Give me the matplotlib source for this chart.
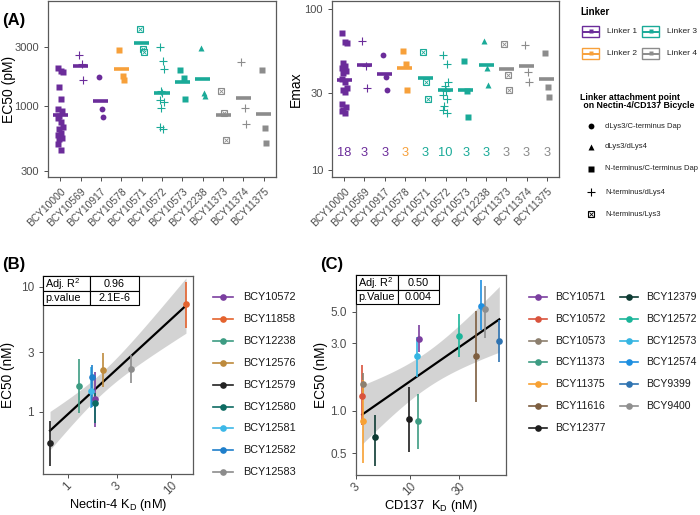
import numpy as np
import matplotlib
matplotlib.use('Agg')
import matplotlib.pyplot as plt
from matplotlib.patches import Rectangle

plt.rcParams['font.family'] = ['Liberation Sans', 'DejaVu Sans']
plt.rcParams['mathtext.fontset'] = 'custom'
plt.rcParams['mathtext.rm'] = 'Liberation Sans'
plt.rcParams['mathtext.it'] = 'Liberation Sans:italic'
plt.rcParams['mathtext.bf'] = 'Liberation Sans:bold'

# ---------------- Panel A data ----------------
categories = ['BCY10000', 'BCY10569', 'BCY10917', 'BCY10578', 'BCY10571', 'BCY10572',
              'BCY10573', 'BCY12238', 'BCY11373', 'BCY11374', 'BCY11375']
cat_linker = [1, 1, 1, 2, 3, 3, 3, 3, 4, 4, 4]
cat_attach = ['sq', 'plus', 'circ', 'sq', 'boxx', 'plus', 'sq', 'tri', 'boxx', 'plus', 'sq']

ec50_pM = [
    [2005, 1930, 1860, 1416, 1137, 946, 912, 833, 803, 746, 681, 656, 610, 588, 556, 546, 498, 439],
    [2577, 2178, 1630],
    [1706, 946, 813],
    [2838, 1754, 1611],
    [4198, 2877, 2705],
    [2965, 2291, 1982, 1315, 1268, 1116, 1082, 959, 671, 656],
    [1959, 1691, 1143],
    [2911, 1276, 1202],
    [1324, 875, 537],
    [2240, 959, 719],
    [1932, 668, 508],
]
emax = [
    [70.8, 62.4, 61.5, 45.9, 44.4, 42.8, 41.2, 40.2, 36.6, 35.4, 32.2, 31.5, 30.7, 25.8, 24.8, 23.7, 23.1, 22.6],
    [63.0, 44.2, 32.5],
    [51.6, 38.0, 31.5],
    [54.8, 45.3, 31.5],
    [53.7, 35.1, 27.7],
    [51.6, 45.3, 35.2, 33.3, 31.0, 29.3, 27.7, 25.1, 23.7, 22.7],
    [47.4, 31.0, 21.4],
    [63.2, 42.8, 33.8],
    [61.0, 38.9, 31.5],
    [59.5, 40.7, 35.4],
    [53.3, 32.7, 28.6],
]
linker_names = ['Linker 1', 'Linker 2', 'Linker 3', 'Linker 4']
attach_labels = ['dLys3/C-terminus Dap', 'dLys3/dLys4', 'N-terminus/C-terminus Dap',
                 'N-terminus/dLys4', 'N-terminus/Lys3']
attach_keys = ['circ', 'tri', 'sq', 'plus', 'boxx']

# ---------------- Panel B data ----------------
b_names = ['BCY10572', 'BCY11858', 'BCY12238', 'BCY12576', 'BCY12579',
           'BCY12580', 'BCY12581', 'BCY12582', 'BCY12583']
b_kd = [1.84, 14.1, 1.28, 2.19, 0.673, 1.83, 1.68, 1.73, 4.12]
b_ec50 = [1.26, 7.28, 1.61, 2.17, 0.562, 1.17, 1.48, 1.90, 2.21]
b_lo = [0.755, 4.72, 0.977, 1.58, 0.370, 0.82, 1.08, 1.10, 1.70]
b_hi = [2.10, 11.0, 2.67, 2.95, 0.851, 1.42, 2.30, 2.38, 2.86]
b_stats = [['Adj. R$^2$', '0.96'], ['p.value', '2.1E-6']]

# ---------------- Panel C data ----------------
c_names = ['BCY10571', 'BCY10572', 'BCY10573', 'BCY11373', 'BCY11375', 'BCY11616', 'BCY12377',
           'BCY12379', 'BCY12572', 'BCY12573', 'BCY12574', 'BCY9399', 'BCY9400']
c_kd = [12.2, 3.44, 3.48, 12.0, 3.52, 43.4, 9.78, 4.57, 30.2, 11.8, 48.9, 73.6, 53.5]
c_ec50 = [3.2, 1.26, 1.54, 0.846, 0.850, 2.44, 0.869, 0.649, 3.39, 2.45, 5.52, 3.12, 5.23]
c_lo = [2.61, 0.792, 1.25, 0.534, 0.425, 1.16, 0.508, 0.407, 2.41, 1.74, 3.72, 2.22, 3.25]
c_hi = [4.03, 2.10, 1.85, 1.31, 1.65, 5.09, 1.46, 0.933, 4.82, 3.32, 8.4, 4.37, 7.6]
c_stats = [['Adj. R$^2$', '0.50'], ['p.Value', '0.004']]

# ---------------- styles ----------------
linker_colors = {1: '#6B2C9A', 2: '#F7A03A', 3: '#1AAA98', 4: '#8C8C8C'}
b_colors = ['#7B3FA0', '#E4632E', '#3D9C83', '#BD8A3C', '#232323',
            '#0E6B62', '#3DB8E8', '#1F7FCB', '#8C8C8C']
c_colors = ['#7B3FA0', '#D9533C', '#8C7F6E', '#3D9C83', '#F7A133', '#7D5E40', '#1E1E1E',
            '#0D3B33', '#1BB59A', '#35B5E2', '#1E8FE0', '#2F73B1', '#8F8F8F']
TICKC = '#4D4D4D'
SPINEC = '#5A5A5A'

W, H = 700, 515
fig = plt.figure(figsize=(7, 5.15), dpi=100)


def rect(l, t, r, b):
    return [l / W, 1 - b / H, (r - l) / W, (b - t) / H]


def draw_marker(ax, x, y, shape, color, scale=1.0, **kw):
    if shape == 'circ':
        ax.plot(x, y, 'o', ms=4.2 * scale, color=color, mec='none', ls='none', **kw)
    elif shape == 'tri':
        ax.plot(x, y, '^', ms=4.8 * scale, color=color, mec='none', ls='none', **kw)
    elif shape == 'sq':
        ax.plot(x, y, 's', ms=3.8 * scale, color=color, mec='none', ls='none', **kw)
    elif shape == 'plus':
        ax.plot(x, y, '+', ms=6.2 * scale, color=color, mew=0.8, ls='none', **kw)
    elif shape == 'boxx':
        ax.plot(x, y, 's', ms=4.3 * scale, mfc='white', mec=color, mew=0.8, ls='none', **kw)
        ax.plot(x, y, 'x', ms=2.8 * scale, color=color, mew=0.6, ls='none', **kw)


def style_axes(ax, lw=0.9):
    for s in ax.spines.values():
        s.set_color(SPINEC)
        s.set_linewidth(lw)
    ax.tick_params(colors=TICKC, length=3, width=0.7)
    ax.minorticks_off()


jit = [-0.1, 0.06, 0.12, -0.04, 0.02, -0.12, 0.09, -0.07]


def strip_panel(ax, values, ylim, yticks, ylabel, label_x, counts=False):
    ax.set_yscale('log')
    for i, vals in enumerate(values):
        pos = i + 1
        col = linker_colors[cat_linker[i]]
        xs = [pos + jit[k % len(jit)] for k in range(len(vals))]
        draw_marker(ax, xs, vals, cat_attach[i], col, zorder=3)
        gm = np.exp(np.mean(np.log(vals)))
        ax.hlines(gm, pos - 0.37, pos + 0.37, color=col, lw=2.6, zorder=4)
        if counts:
            ax.text(pos, 12.7, str(len(vals)), color=col, ha='center', va='center', fontsize=9.3)
    ax.set_xlim(0.4, len(values) + 0.6)
    ax.set_ylim(*ylim)
    ax.set_yticks(yticks)
    ax.set_yticklabels([str(t) for t in yticks], fontsize=8)
    ax.set_xticks(range(1, len(values) + 1))
    ax.set_xticklabels(categories, rotation=45, ha='right', rotation_mode='anchor', fontsize=7.4)
    ax.set_ylabel(ylabel, fontsize=10)
    ax.yaxis.set_label_coords(label_x, 0.5)
    style_axes(ax)


axA1 = fig.add_axes(rect(48, 1, 276, 177))
strip_panel(axA1, ec50_pM, (268, 7000), [300, 1000, 3000], 'EC50 (pM)', -0.14)
axA2 = fig.add_axes(rect(332, 1, 559, 177))
strip_panel(axA2, emax, (9.06, 112), [10, 30, 100], 'Emax', -0.13, counts=True)

TQ = {7: 2.3646, 11: 2.2010}


def reg_panel(ax, kd, ec, lo, hi, colors, xlim, ylim, xticks, yticks, ytl, xlabel):
    ax.set_xscale('log')
    ax.set_yscale('log')
    x = np.log10(kd)
    y = np.log10(ec)
    n = len(x)
    b, a = np.polyfit(x, y, 1)
    res = y - (a + b * x)
    s = np.sqrt(np.sum(res ** 2) / (n - 2))
    sxx = np.sum((x - x.mean()) ** 2)
    xg = np.linspace(x.min(), x.max(), 100)
    yg = a + b * xg
    se = s * np.sqrt(1 / n + (xg - x.mean()) ** 2 / sxx)
    t = TQ[n - 2]
    ax.fill_between(10 ** xg, 10 ** (yg - t * se), 10 ** (yg + t * se), color='#A8A8A8', alpha=0.5,
                    lw=0, zorder=1)
    ax.plot(10 ** xg, 10 ** yg, color='black', lw=1.6, zorder=2)
    for k in range(n):
        ax.vlines(kd[k], lo[k], hi[k], color=colors[k], lw=1.2, zorder=3)
        ax.plot(kd[k], ec[k], 'o', color=colors[k], ms=4.8, mec='none', zorder=4)
    ax.set_xlim(*xlim)
    ax.set_ylim(*ylim)
    ax.set_xticks(xticks)
    ax.set_xticklabels([str(v) for v in xticks], rotation=45, ha='center', va='top', fontsize=8.5)
    ax.set_yticks(yticks)
    ax.set_yticklabels(ytl, fontsize=8.5)
    ax.set_xlabel(xlabel, fontsize=9.3)
    ax.set_ylabel('EC50 (nM)', fontsize=9.8)
    style_axes(ax, lw=0.9)
    ax.tick_params(axis='x', pad=1.0)


axB = fig.add_axes(rect(43, 276, 193, 474))
reg_panel(axB, b_kd, b_ec50, b_lo, b_hi, b_colors, (0.575, 16.5), (0.319, 12.2),
          [1, 3, 10], [1, 3, 10], ['1', '3', '10'], 'Nectin-4 K$_\\mathregular{D}$ (nM)')
axB.yaxis.set_label_coords(-0.19, 0.5)
axB.xaxis.set_label_coords(0.5, -0.118)

axC = fig.add_axes(rect(356, 275, 506, 475))
reg_panel(axC, c_kd, c_ec50, c_lo, c_hi, c_colors, (2.99, 85.5), (0.351, 9.1),
          [3, 10, 30], [0.5, 1, 3, 5], ['0.5', '1.0', '3.0', '5.0'], 'CD137  K$_\\mathregular{D}$ (nM)')
axC.yaxis.set_label_coords(-0.19, 0.5)
axC.xaxis.set_label_coords(0.5, -0.113)

# ---------------- overlay (legends, tables, panel labels) ----------------
ov = fig.add_axes([0, 0, 1, 1], zorder=10)
ov.set_xlim(0, W)
ov.set_ylim(H, 0)
ov.axis('off')

ov.text(2, 20, '(A)', fontsize=12, fontweight='bold', ha='left', va='center')
ov.text(2, 264, '(B)', fontsize=12, fontweight='bold', ha='left', va='center')
ov.text(320, 264, '(C)', fontsize=12, fontweight='bold', ha='left', va='center')

# Linker legend
ov.text(580, 12, 'Linker', fontsize=7, fontweight='bold', ha='left', va='center')
key_pos = [(582, 26), (582, 48), (642, 26), (642, 48)]
for k, (lx, ty) in enumerate(key_pos):
    col = linker_colors[k + 1]
    ov.add_patch(Rectangle((lx, ty), 17, 11, fc='white', ec=col, lw=1.0))
    ov.plot([lx + 1, lx + 16], [ty + 5.5, ty + 5.5], color=col, lw=1.4)
    ov.plot(lx + 8.5, ty + 4.5, 's', color=col, ms=2.8, mec='none')
    ov.text(lx + 25, ty + 5.7, linker_names[k], fontsize=6, ha='left', va='center', color='#222222')

ov.text(580, 97, 'Linker attachment point', fontsize=6.3, fontweight='bold', ha='left', va='center')
ov.text(581, 106, ' on Nectin-4/CD137 Bicycle', fontsize=6.3, fontweight='bold', ha='left', va='center')
for k, (shape, lab) in enumerate(zip(attach_keys, attach_labels)):
    yy = [126, 147, 169, 192, 214][k]
    draw_marker(ov, [591], [yy], shape, 'black')
    ov.text(605, yy, lab, fontsize=5.5, ha='left', va='center', color='#222222')

# Panel B legend
for k, nm in enumerate(b_names):
    yy = 297 + k * 21.9
    ov.plot([213, 233], [yy, yy], color=b_colors[k], lw=1.2)
    ov.plot(223, yy, 'o', color=b_colors[k], ms=4.8, mec='none')
    ov.text(243, yy, nm, fontsize=7.8, ha='left', va='center', color='#1A1A1A')

# Panel C legend
for k, nm in enumerate(c_names):
    col_i = k // 7
    row = k % 7
    yy = 296.7 + row * 21.9
    x0 = [529, 620][col_i]
    ov.plot([x0, x0 + 18], [yy, yy], color=c_colors[k], lw=1.2)
    ov.plot(x0 + 9, yy, 'o', color=c_colors[k], ms=4.8, mec='none')
    ov.text(x0 + 26, yy, nm, fontsize=7.5, ha='left', va='center', color='#1A1A1A')


def draw_table(l, t, c1, r, rowh, stats):
    for ri, (lab, val) in enumerate(stats):
        top = t + ri * rowh
        ov.add_patch(Rectangle((l, top), c1 - l, rowh, fc='white', ec='black', lw=0.8))
        ov.add_patch(Rectangle((c1, top), r - c1, rowh, fc='white', ec='black', lw=0.8))
        ov.text(l + 2, top + rowh / 2 + 0.5, lab, fontsize=7.8, ha='left', va='center')
        ov.text((c1 + r) / 2, top + rowh / 2 + 0.5, val, fontsize=7.8, ha='center', va='center')


draw_table(43, 276, 89.5, 139, 14.5, b_stats)
draw_table(356, 275, 397.5, 439, 14.5, c_stats)

fig.savefig('out.png', dpi=100)
